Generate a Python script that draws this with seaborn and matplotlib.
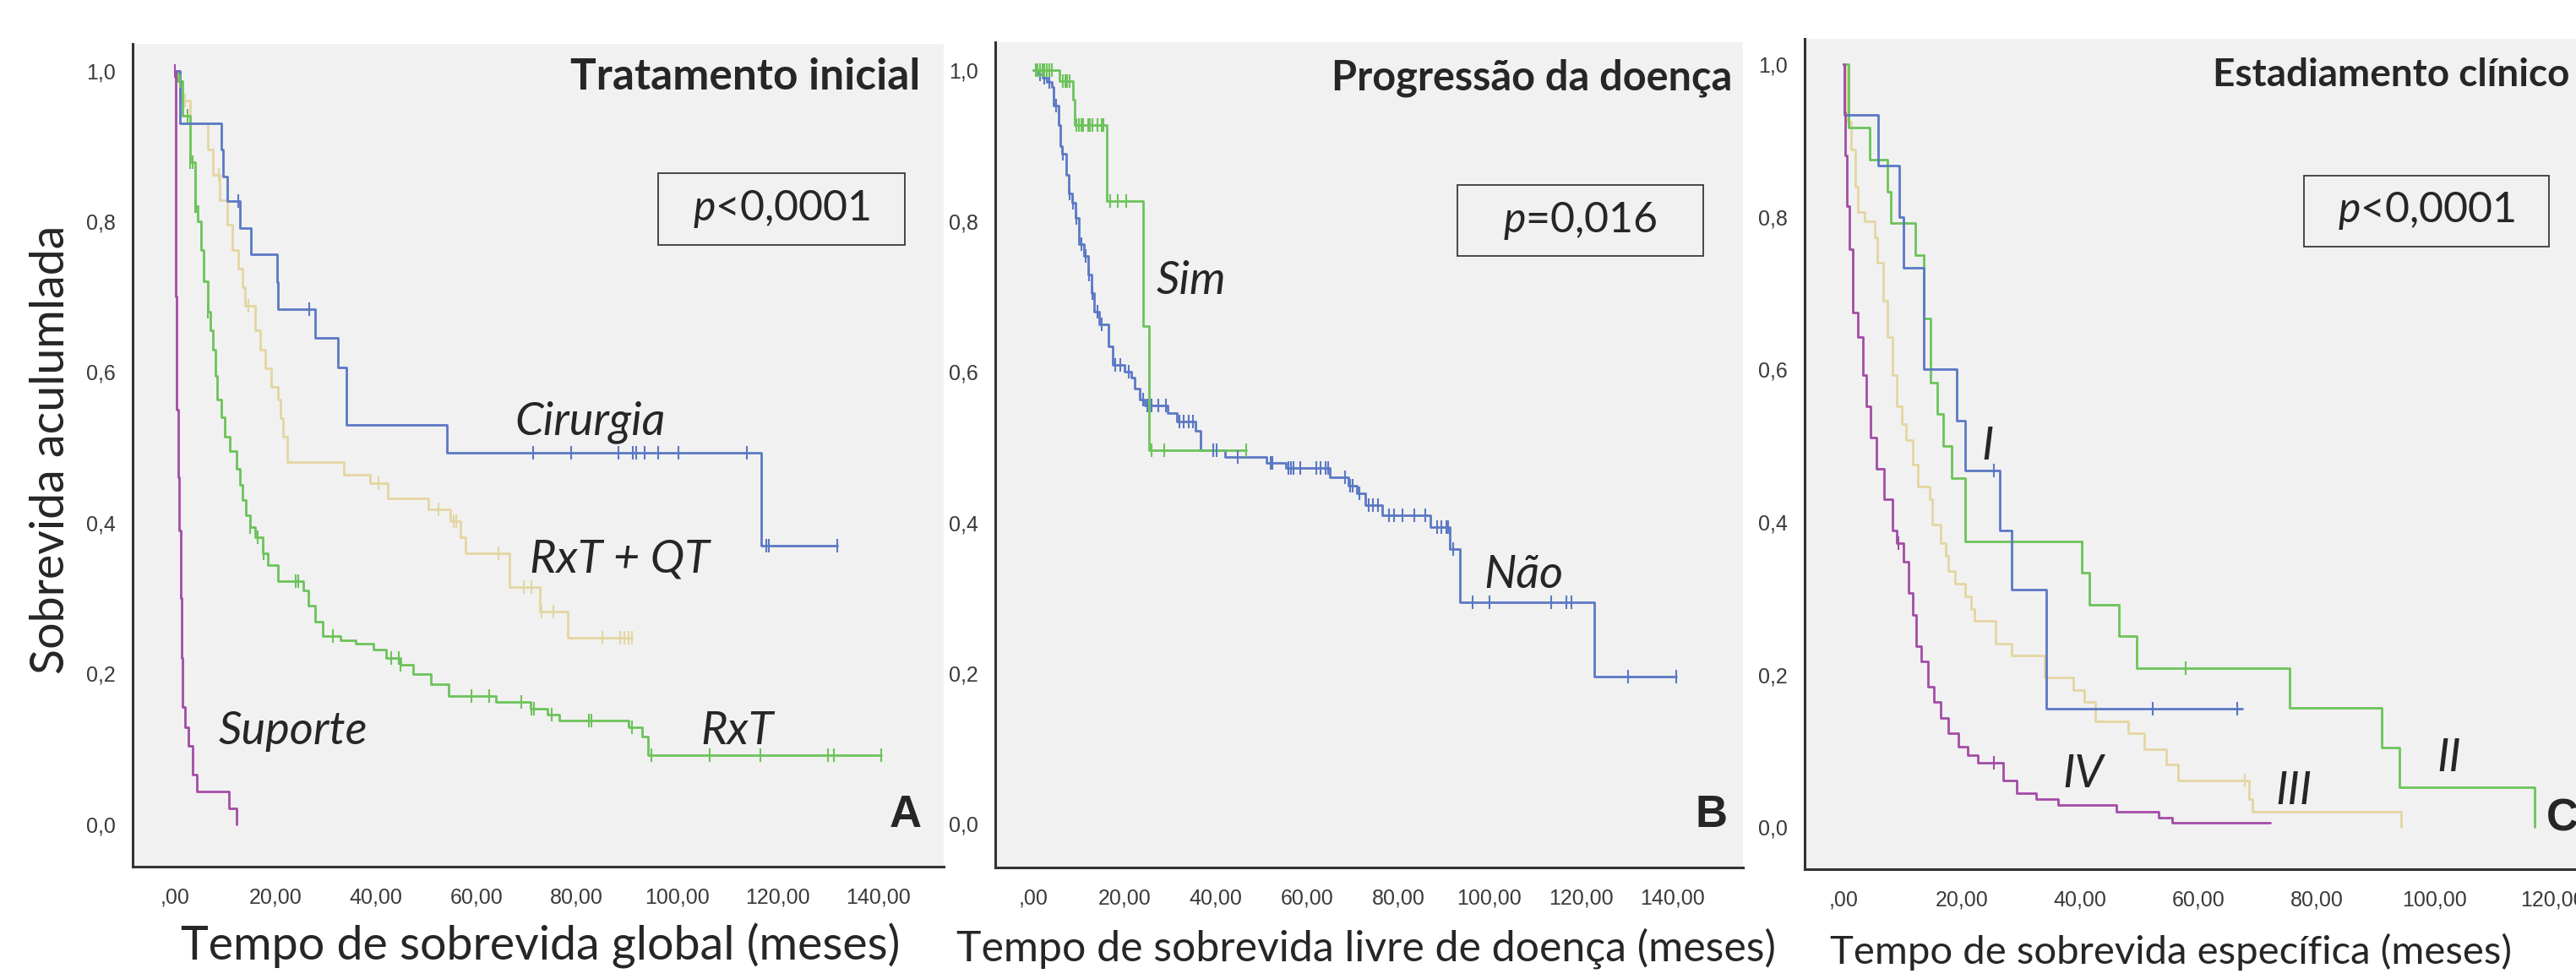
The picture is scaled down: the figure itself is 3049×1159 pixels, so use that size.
import numpy as np
import matplotlib
matplotlib.use("Agg")
import matplotlib.pyplot as plt
import matplotlib.patches as mpatches
from matplotlib.ticker import FuncFormatter
import seaborn as sns

sns.set_style("white")
plt.rcParams['font.family'] = ['Lato', 'DejaVu Sans']
plt.rcParams['mathtext.fontset'] = 'custom'
plt.rcParams['mathtext.it'] = 'Lato:italic'
plt.rcParams['mathtext.rm'] = 'Lato'

# ---------------- data ----------------
# A - Tratamento inicial (tempo, sobrevida apos o evento)
cir_t = [0, 1.0, 9.3, 9.6, 10.4, 12.9, 15.2, 20.3, 20.5, 28.0, 32.5, 34.2, 54.1, 116.7]
cir_s = [1.0, 0.930, 0.895, 0.859, 0.827, 0.791, 0.756, 0.719, 0.683, 0.645, 0.606, 0.530, 0.493, 0.369]
cir_end = 131.8
cir_cens = [12.6, 26.7, 71.3, 78.9, 88.3, 91.2, 91.8, 93.6, 96.2, 100.3, 113.8, 117.7, 118.2, 131.8]

sup_t = [0, 0.1, 0.25, 0.4, 0.6, 0.9, 1.1, 1.3, 1.5, 2.0, 2.7, 3.6, 4.3, 10.7, 12.3]
sup_s = [1.0, 0.85, 0.70, 0.55, 0.46, 0.39, 0.30, 0.22, 0.155, 0.128, 0.104, 0.066, 0.043, 0.021, 0.0]
sup_end = 12.3
sup_cens = [0.0]

rq_t = [0, 1.0, 3.0, 6.5, 7.5, 9.0, 10.5, 11.5, 12.7, 13.5, 14.0, 16.0, 17.0, 18.0, 19.2,
        20.5, 21.0, 21.5, 22.3, 33.6, 38.9, 42.4, 50.4, 54.9, 56.8, 57.8, 66.6, 72.7, 78.3]
rq_s = [1.0, 0.96, 0.93, 0.895, 0.862, 0.828, 0.795, 0.762, 0.737, 0.713, 0.688, 0.655, 0.630, 0.605, 0.580,
        0.563, 0.539, 0.514, 0.480, 0.464, 0.452, 0.432, 0.418, 0.402, 0.381, 0.359, 0.315, 0.282, 0.247]
rq_end = 91.0
rq_cens = [2.0, 8.8, 14.6, 40.5, 52.5, 55.5, 56.0, 64.5, 69.5, 71.0, 73.0, 75.4, 85.1, 88.7, 89.5, 90.3, 91.0]

rxt_t = [0, 0.5, 1.5, 3.0, 4.0, 4.5, 5.2, 5.8, 6.5, 7.0, 7.5, 8.0, 8.5, 9.2, 10.0, 11.0, 12.3, 13.0,
         13.5, 14.2, 15.0, 16.0, 17.5, 18.5, 20.5, 25.5, 26.5, 28.0, 29.5, 33.0, 36.0, 39.5, 42.0,
         45.0, 47.5, 51.0, 54.5, 64.0, 70.9, 74.2, 76.5, 90.4, 93.0, 94.2]
rxt_s = [1.0, 0.986, 0.94, 0.878, 0.82, 0.80, 0.762, 0.72, 0.68, 0.655, 0.63, 0.595, 0.563, 0.54, 0.514,
         0.495, 0.472, 0.45, 0.43, 0.41, 0.394, 0.381, 0.36, 0.344, 0.323, 0.31, 0.29, 0.269, 0.25,
         0.244, 0.24, 0.232, 0.22, 0.211, 0.199, 0.186, 0.17, 0.162, 0.153, 0.145, 0.137, 0.128, 0.116, 0.091]
rxt_end = 140.6
rxt_cens = [1.0, 2.5, 3.0, 3.5, 4.0, 4.2, 6.5, 15.0, 16.5, 17.7, 24.0, 24.5, 31.5, 43.0, 44.5, 45.0,
            59.0, 62.6, 68.9, 71.0, 71.5, 75.0, 82.5, 83.0, 91.0, 94.8, 106.5, 116.5, 130.0, 131.2, 140.6]

# B - Progressao da doenca
sim_t = [0, 5.8, 8.7, 9.0, 16.1, 24.0, 25.3]
sim_s = [1.0, 0.986, 0.961, 0.928, 0.827, 0.661, 0.496]
sim_end = 46.7
sim_cens = [0.5, 1.0, 1.5, 2.0, 2.5, 3.0, 3.5, 4.0, 6.5, 7.0, 7.5, 8.0, 9.5, 10.0, 10.5, 11.0, 12.0,
            12.5, 13.0, 14.0, 15.0, 15.4, 16.8, 18.6, 20.4, 26.0, 28.7, 46.7]

nao_t = [0, 1.0, 2.0, 3.0, 4.0, 4.5, 5.5, 6.0, 6.3, 7.2, 7.8, 8.5, 9.2, 10.0, 11.2, 12.0, 12.7, 13.4,
         14.5, 16.5, 17.5, 20.0, 21.5, 22.3, 23.3, 24.5, 29.5, 31.5, 35.5, 36.6, 42.0, 51.2, 55.4,
         65.0, 69.0, 70.9, 72.7, 76.5, 87.0, 91.3, 93.6, 123.0]
nao_s = [1.0, 0.995, 0.99, 0.985, 0.978, 0.953, 0.928, 0.899, 0.89, 0.862, 0.837, 0.824, 0.804, 0.77,
         0.754, 0.729, 0.704, 0.68, 0.663, 0.634, 0.609, 0.60, 0.592, 0.578, 0.563, 0.555, 0.545, 0.534,
         0.522, 0.496, 0.487, 0.479, 0.472, 0.46, 0.449, 0.439, 0.423, 0.41, 0.394, 0.365, 0.294, 0.196]
nao_end = 140.9
nao_cens = [0.5, 1.5, 2.5, 3.5, 5.0, 6.5, 8.0, 8.8, 9.5, 10.5, 11.5, 12.3, 13.0, 14.0, 15.0, 18.0, 19.0,
            21.0, 24.0, 25.0, 26.0, 27.5, 29.0, 32.0, 33.0, 34.0, 35.0, 39.5, 40.2, 44.8, 52.0, 52.5,
            56.0, 56.5, 57.0, 58.5, 62.0, 63.0, 64.0, 64.7, 68.4, 69.5, 70.0, 71.5, 73.5, 74.5, 75.5,
            78.0, 79.0, 81.0, 83.5, 86.0, 88.5, 89.5, 90.5, 91.0, 92.0, 96.3, 100.0, 113.6, 116.8,
            118.0, 130.4, 140.9]

# C - Estadiamento clinico
e1_t = [0, 0.1, 5.8, 9.4, 10.1, 13.5, 19.1, 20.6, 26.4, 28.4, 34.3]
e1_s = [1.0, 0.933, 0.867, 0.80, 0.733, 0.60, 0.533, 0.467, 0.389, 0.311, 0.155]
e1_end = 67.4
e1_cens = [25.4, 52.3, 66.6]

e2_t = [0, 0.8, 4.45, 7.4, 8.0, 12.1, 13.6, 14.7, 15.8, 16.8, 18.2, 20.5, 40.3, 41.5, 46.6, 49.6,
        75.4, 91.0, 94.0, 116.9]
e2_s = [1.0, 0.917, 0.875, 0.833, 0.792, 0.75, 0.667, 0.583, 0.542, 0.50, 0.458, 0.375, 0.333, 0.292,
        0.25, 0.208, 0.156, 0.104, 0.052, 0.0]
e2_end = 116.9
e2_cens = [57.9]

e3_t = [0, 0.5, 1.3, 2.0, 2.4, 3.5, 5.2, 5.7, 6.7, 7.4, 8.2, 9.0, 9.8, 10.6, 11.7, 12.5, 14.5, 15.0,
        16.4, 17.2, 17.7, 18.8, 20.5, 21.6, 22.1, 25.7, 28.4, 34.0, 38.8, 40.7, 42.6, 48.1, 50.8,
        54.6, 56.6, 68.6, 69.2, 94.3]
e3_s = [1.0, 0.925, 0.888, 0.839, 0.806, 0.794, 0.773, 0.74, 0.69, 0.642, 0.593, 0.552, 0.528, 0.507,
        0.475, 0.446, 0.43, 0.397, 0.372, 0.356, 0.336, 0.319, 0.303, 0.286, 0.27, 0.241, 0.225,
        0.196, 0.18, 0.164, 0.139, 0.123, 0.102, 0.082, 0.061, 0.037, 0.02, 0.0]
e3_end = 94.3
e3_cens = [67.9]

e4_t = [0, 0.05, 0.25, 0.6, 1.0, 1.6, 2.4, 3.25, 3.8, 4.6, 5.6, 6.8, 8.2, 9.0, 10.1, 10.9, 11.7,
        12.3, 13.1, 14.2, 15.3, 16.4, 17.7, 19.4, 21.0, 22.7, 27.0, 29.2, 32.5, 36.3, 46.2, 53.3, 55.5]
e4_s = [1.0, 0.937, 0.88, 0.814, 0.757, 0.675, 0.642, 0.593, 0.552, 0.511, 0.47, 0.43, 0.389, 0.372,
        0.348, 0.307, 0.278, 0.237, 0.217, 0.184, 0.164, 0.143, 0.123, 0.106, 0.094, 0.084, 0.061,
        0.045, 0.037, 0.029, 0.02, 0.012, 0.006]
e4_end = 72.2
e4_cens = [9.3, 25.4]

# ---------------- style ----------------
BLUE = "#5a78c4"
GREEN = "#6cc35a"
TAN = "#e4d6a2"
PURPLE = "#a34ca6"
BG = "#f1f1f1"
DARK = "#333333"

W, H = 3049, 1159
fig = plt.figure(figsize=(W / 100, H / 100), dpi=100)
fig.patch.set_facecolor("white")


def px(x, y):
    return x / W, 1 - y / H


def km(ax, t, s, end, cens, color):
    xs = list(t) + [end]
    ys = list(s) + [s[-1]]
    sns.lineplot(x=xs, y=ys, drawstyle="steps-post", estimator=None, sort=False,
                 color=color, linewidth=2.0, ax=ax)
    idx = np.searchsorted(t, cens, side="right") - 1
    cy = np.array(s)[idx]
    sns.scatterplot(x=cens, y=cy, marker="|", s=120, linewidth=1.5, color=color, ax=ax, zorder=3)


def xfmt(v, pos):
    txt = f"{v:.2f}".replace(".", ",")
    return txt[1:] if txt.startswith("0") else txt


def setup(ax, xlim, ylim):
    ax.set_facecolor(BG)
    ax.set_xticks(np.arange(0, 141, 20))
    ax.set_yticks(np.arange(0, 1.01, 0.2))
    ax.set_xlim(*xlim)
    ax.set_ylim(*ylim)
    ax.xaxis.set_major_formatter(FuncFormatter(xfmt))
    ax.yaxis.set_major_formatter(FuncFormatter(lambda v, p: f"{v:.1f}".replace(".", ",")))
    for side in ["top", "right"]:
        ax.spines[side].set_visible(False)
    for side in ["left", "bottom"]:
        ax.spines[side].set_color(DARK)
        ax.spines[side].set_linewidth(2.2)
    ax.tick_params(axis="both", direction="out", length=10.5, width=1.6, color=DARK,
                   labelsize=18, labelcolor="#3a3a3a")
    ax.tick_params(axis="y", pad=4)
    ax.tick_params(axis="x", pad=7)
    for lab in ax.get_xticklabels() + ax.get_yticklabels():
        lab.set_family("Liberation Sans")
    ax.set_xlabel("")
    ax.set_ylabel("")


def pbox(x0, y0, x1, y1, txt):
    (fx0, fy1), (fx1, fy0) = px(x0, y0), px(x1, y1)
    fig.patches.append(mpatches.Rectangle((fx0, fy0), fx1 - fx0, fy1 - fy0, transform=fig.transFigure,
                                          fill=False, edgecolor="#3a3a3a", linewidth=1.3))
    fig.text((fx0 + fx1) / 2, (fy0 + fy1) / 2, txt, ha="center", va="center", fontsize=36)


axA = fig.add_axes([0.0515, 0.1147, 0.3149, 0.8406])
axB = fig.add_axes([0.3864, 0.1139, 0.2903, 0.8430])
axC = fig.add_axes([0.7006, 0.1122, 0.2994, 0.8483])

# panel A
km(axA, rq_t, rq_s, rq_end, rq_cens, TAN)
km(axA, rxt_t, rxt_s, rxt_end, rxt_cens, GREEN)
km(axA, cir_t, cir_s, cir_end, cir_cens, BLUE)
km(axA, sup_t, sup_s, sup_end, sup_cens, PURPLE)
setup(axA, (-8.4, 153.1), (-0.0565, 1.0356))
lab_kw = dict(fontsize=39, style="italic", va="center", ha="left")
axA.text(67.7, 0.534, "Cirurgia", **lab_kw)
axA.text(70.7, 0.352, "RxT + QT", **lab_kw)
axA.text(8.7, 0.124, "Suporte", **lab_kw)
axA.text(104.7, 0.124, "RxT", **lab_kw)

# panel B
km(axB, nao_t, nao_s, nao_end, nao_cens, BLUE)
km(axB, sim_t, sim_s, sim_end, sim_cens, GREEN)
setup(axB, (-8.3, 155.6), (-0.0578, 1.0375))
axB.text(27.0, 0.721, "Sim", **lab_kw)
axB.text(98.7, 0.331, "Não", **lab_kw)

# panel C
km(axC, e3_t, e3_s, e3_end, e3_cens, TAN)
km(axC, e2_t, e2_s, e2_end, e2_cens, GREEN)
km(axC, e1_t, e1_s, e1_end, e1_cens, BLUE)
km(axC, e4_t, e4_s, e4_end, e4_cens, PURPLE)
setup(axC, (-6.6, 123.9), (-0.055, 1.0334))
axC.text(23.3, 0.499, "I", **lab_kw)
axC.text(37.1, 0.0695, "IV", **lab_kw)
axC.text(73.0, 0.047, "III", **lab_kw)
axC.text(100.3, 0.09, "II", **lab_kw)

# titles, letters, p-values
for x, y, t, fs in [(1089, 92, "Tratamento inicial", 37), (2050, 92, "Progressão da doença", 35),
                    (3041, 89, "Estadiamento clínico", 33)]:
    fig.text(*px(x, y), t, ha="right", va="center", fontsize=fs, fontweight="bold")
for x, y, t, ha in [(1091, 979, "A", "right"), (2044, 979, "B", "right"), (3014, 983, "C", "left")]:
    fig.text(*px(x, y), t, ha=ha, va="baseline", fontsize=38, fontweight="bold",
             family="Liberation Sans")

pbox(778.7, 204.7, 1071, 289.7, r"$p$<0,0001")
pbox(1725, 219.5, 2015.5, 303, r"$p$=0,016")
pbox(2726.5, 208, 3017, 292, r"$p$<0,0001")

# axis labels
fig.text(*px(640, 1120), "Tempo de sobrevida global (meses)", ha="center", va="center", fontsize=40)
fig.text(*px(1617, 1123), "Tempo de sobrevida livre de doença (meses)", ha="center", va="center", fontsize=36)
fig.text(*px(2570, 1127), "Tempo de sobrevida específica (meses)", ha="center", va="center", fontsize=34)
fig.text(*px(61, 532), "Sobrevida aculumlada", ha="center", va="center", rotation=90, fontsize=40)

fig.savefig("out.png", dpi=100, facecolor="white")
